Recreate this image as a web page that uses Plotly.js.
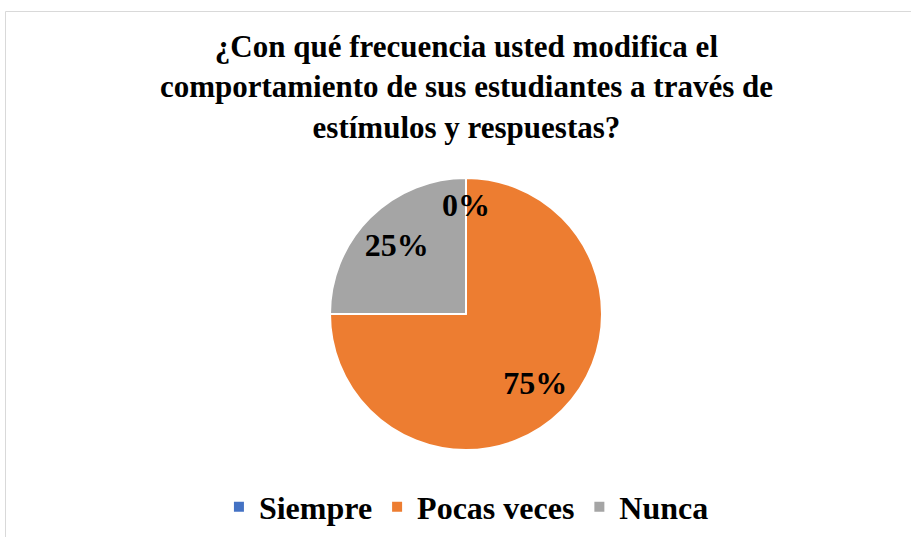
<!DOCTYPE html>
<html>
<head>
<meta charset="utf-8">
<script src="https://cdn.plot.ly/plotly-3.0.1.min.js"></script>
<style>html,body{margin:0;padding:0;background:#fff;}#chart{width:911px;height:537px;}</style>
</head>
<body>
<div id="chart"></div>
<script>
const categories = ["Siempre", "Pocas veces", "Nunca"];
const values = [0, 75, 25];
const colors = ["#4472C4", "#ED7D31", "#A5A5A5"];
const titleText = "¿Con qué frecuencia usted modifica el<br>comportamiento de sus estudiantes a través de<br>estímulos y respuestas?";

const W = 911, H = 537;
const cx = 466, cy = 314, R = 136;
const domain = {
  x: [(cx - R) / W, (cx + R) / W],
  y: [1 - (cy + R) / H, 1 - (cy - R) / H]
};
const serif = "Times New Roman";

const pie = {
  type: "pie",
  labels: categories,
  values: values,
  sort: false,
  direction: "clockwise",
  rotation: 0,
  domain: domain,
  marker: {colors: colors, line: {color: "#ffffff", width: 2}},
  textinfo: "none",
  hoverinfo: "label+percent",
  showlegend: true
};
const labelsRing = {
  type: "pie",
  labels: categories,
  values: values,
  sort: false,
  direction: "clockwise",
  rotation: 0,
  domain: domain,
  hole: 0.44,
  marker: {colors: ["rgba(0,0,0,0)", "rgba(0,0,0,0)", "rgba(0,0,0,0)"], line: {width: 0}},
  texttemplate: "%{percent:.0%}",
  textposition: "inside",
  insidetextorientation: "horizontal",
  textfont: {family: serif, size: 32, color: "#000", weight: "bold"},
  hoverinfo: "skip",
  showlegend: false
};

// labels for zero-valued slices (Plotly gives them no room inside the slice)
const total = values.reduce((a, b) => a + b, 0);
const annotations = [];
let cum = 0;
values.forEach((v, i) => {
  if (v === 0) {
    const ang = (cum / total) * 2 * Math.PI; // clockwise from 12 o'clock
    const r = 0.80 * R;
    annotations.push({
      xref: "paper", yref: "paper",
      x: (cx + r * Math.sin(ang)) / W,
      y: 1 - (cy - r * Math.cos(ang)) / H,
      text: Math.round(100 * v / total) + "%",
      showarrow: false,
      font: {family: serif, size: 32, color: "#000", weight: "bold"}
    });
  }
  cum += v;
});

const layout = {
  width: W, height: H,
  margin: {l: 0, r: 0, t: 0, b: 0},
  paper_bgcolor: "#ffffff",
  title: {
    text: titleText,
    font: {family: serif, size: 31, color: "#000", weight: "bold"},
    x: 0.512, xanchor: "center",
    y: 1 - 57 / H, yanchor: "middle", yref: "container"
  },
  legend: {
    orientation: "h",
    x: 0.512, xanchor: "center",
    y: 1 - 507 / H, yanchor: "middle",
    font: {family: serif, size: 32, color: "#000", weight: "bold"},
    traceorder: "normal"
  },
  annotations: annotations,
  shapes: [{
    type: "rect", xref: "paper", yref: "paper",
    x0: 5.5 / W, x1: 1.2, y0: -0.2, y1: 1 - 11.5 / H,
    line: {color: "#d9d9d9", width: 1}, fillcolor: "rgba(0,0,0,0)", layer: "below"
  }]
};

Plotly.newPlot("chart", [pie, labelsRing], layout, {displayModeBar: false, staticPlot: true});
</script>
</body>
</html>
